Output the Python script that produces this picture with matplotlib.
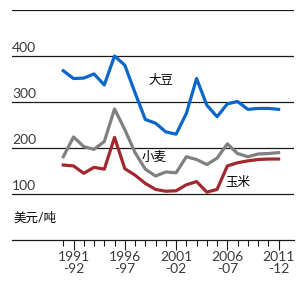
import matplotlib
matplotlib.use('Agg')
import matplotlib.pyplot as plt
from matplotlib.ticker import FixedLocator

plt.rcParams['font.family'] = ['Lato', 'Noto Sans CJK SC', 'DejaVu Sans']

years = list(range(1990, 2012))
soybean = [368, 351, 352, 361, 337, 400, 380, 320, 262, 254, 235, 230, 275, 351,
           293, 268, 296, 301, 284, 286, 286, 284]
wheat = [181, 224, 203, 197, 214, 285, 240, 190, 154, 139, 148, 146, 181, 175,
         164, 178, 209, 188, 181, 187, 188, 190]
corn = [163, 161, 145, 158, 154, 223, 155, 141, 123, 110, 106, 107, 120, 127,
        104, 110, 161, 168, 172, 175, 176, 176]
y_ticks = [100, 200, 300, 400, 500]
x_major = [1991, 1996, 2001, 2006, 2011]
x_labels = ['1991\n-92', '1996\n-97', '2001\n-02', '2006\n-07', '2011\n-12']

fig = plt.figure(figsize=(3.05, 2.81), dpi=100)
ax = fig.add_axes([12 / 305, 41 / 281, 282 / 305, 230 / 281])

# gridlines with labels sitting on top of them
for y in y_ticks:
    ax.axhline(y, color='#1a1a1a', lw=0.9, zorder=1)
    if y < 500:
        ax.text(0, y + 4, str(y), transform=ax.get_yaxis_transform(),
                ha='left', va='bottom', fontsize=10, color='#3a3a3a')

ax.plot(years, soybean, color='#0a66c8', lw=2.3, solid_joinstyle='round', zorder=3)
ax.plot(years, wheat, color='#808080', lw=2.3, solid_joinstyle='round', zorder=3)
ax.plot(years, corn, color='#a3282e', lw=2.3, solid_joinstyle='round', zorder=3)

ax.text(1998.3, 350, '大豆', fontsize=9, va='center', ha='left')
ax.text(1997.6, 180, '小麦', fontsize=9, va='center', ha='left')
ax.text(2005.8, 126, '玉米', fontsize=9, va='center', ha='left')
ax.text(0.005, 0.095, '美元/吨', transform=ax.transAxes, fontsize=9,
        va='center', ha='left')

ax.set_xlim(1985, 2012.5)
ax.set_ylim(0, 500)
for s in ['top', 'left', 'right']:
    ax.spines[s].set_visible(False)
ax.spines['bottom'].set_color('#1a1a1a')
ax.spines['bottom'].set_linewidth(0.9)
ax.set_yticks([])
ax.xaxis.set_major_locator(FixedLocator(x_major))
ax.xaxis.set_minor_locator(FixedLocator(years))
ax.set_xticklabels(x_labels, fontsize=10, color='#3a3a3a', linespacing=0.95)
ax.tick_params(axis='x', which='major', length=7, width=0.8, pad=1, color='#1a1a1a')
ax.tick_params(axis='x', which='minor', length=4, width=0.8, color='#1a1a1a')

fig.savefig('out.png', dpi=100)
